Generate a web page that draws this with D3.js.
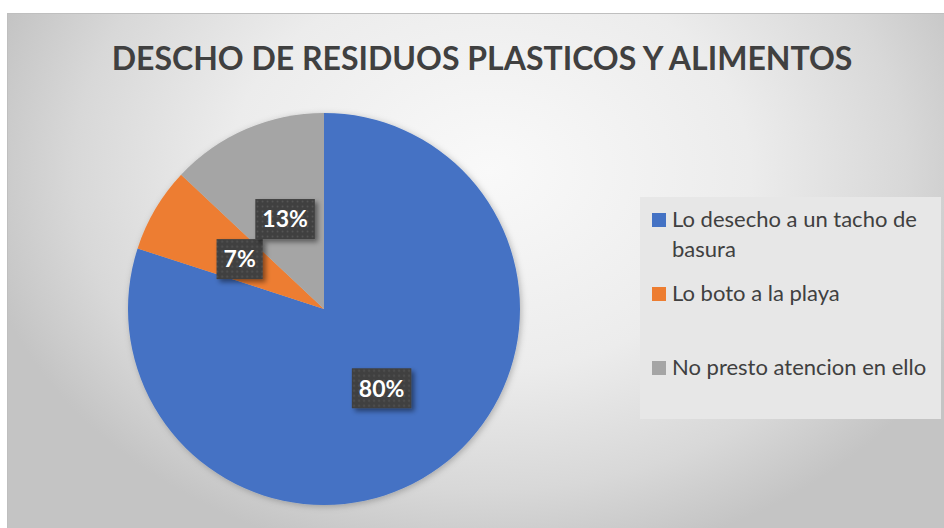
<!DOCTYPE html>
<html>
<head>
<meta charset="utf-8">
<script src="https://cdn.jsdelivr.net/npm/d3@7"></script>
<style>
  html, body { margin: 0; padding: 0; background: #fff; overflow: hidden; }
</style>
</head>
<body>
<div id="chart"></div>
<script>
{
  const width = 944;
  const height = 528;
  const title = "DESCHO DE RESIDUOS PLASTICOS Y ALIMENTOS";
  const categories = ["Lo desecho a un tacho de basura", "Lo boto a la playa", "No presto atencion en ello"];
  const values = [80, 7, 13];
  const colors = ["#4472C4", "#ED7D31", "#A5A5A5"];

  const font = "Lato, 'Open Sans', sans-serif";
  const textColor = "#404040";

  const center = { x: 324, y: 309 };
  const radius = 196;

  const svg = d3.select("#chart").append("svg")
    .attr("width", width)
    .attr("height", height)
    .style("display", "block");

  const defs = svg.append("defs");

  // background radial gradient (light near the top middle, darker at corners)
  const grad = defs.append("radialGradient")
    .attr("id", "bg")
    .attr("gradientUnits", "userSpaceOnUse")
    .attr("cx", 0).attr("cy", 0).attr("r", 1)
    .attr("gradientTransform", "translate(490,170) scale(520,400)");
  [[0, "#f9f9f9"], [0.5, "#ececec"], [0.8, "#d8d8d8"], [1, "#c4c4c4"]].forEach(s => {
    grad.append("stop").attr("offset", s[0]).attr("stop-color", s[1]);
  });

  const dots = defs.append("pattern")
    .attr("id", "dots")
    .attr("patternUnits", "userSpaceOnUse")
    .attr("width", 5)
    .attr("height", 5);
  dots.append("rect").attr("width", 5).attr("height", 5).attr("fill", "#404040");
  dots.append("circle").attr("cx", 2.5).attr("cy", 2.5).attr("r", 0.9).attr("fill", "#575757");

  const shadow = defs.append("filter")
    .attr("id", "shadow")
    .attr("x", "-30%").attr("y", "-30%").attr("width", "160%").attr("height", "160%");
  shadow.append("feDropShadow")
    .attr("dx", 3).attr("dy", 3).attr("stdDeviation", 2.5)
    .attr("flood-color", "#000").attr("flood-opacity", 0.45);

  const pieShadow = defs.append("filter")
    .attr("id", "pieShadow")
    .attr("x", "-10%").attr("y", "-10%").attr("width", "120%").attr("height", "120%");
  pieShadow.append("feDropShadow")
    .attr("dx", 1.5).attr("dy", 1.5).attr("stdDeviation", 3)
    .attr("flood-color", "#000").attr("flood-opacity", 0.25);

  // chart area
  svg.append("rect")
    .attr("x", 7.5).attr("y", 13.5)
    .attr("width", width + 20).attr("height", height + 20)
    .attr("fill", "url(#bg)")
    .attr("stroke", "#bfbfbf")
    .attr("stroke-width", 1);

  svg.append("text")
    .attr("x", 482)
    .attr("y", 70)
    .attr("text-anchor", "middle")
    .style("font-family", font)
    .style("font-weight", 700)
    .style("font-size", "32px")
    .attr("fill", textColor)
    .text(title);

  // pie
  const pie = d3.pie().sort(null).value(d => d.value);
  const arc = d3.arc().innerRadius(0).outerRadius(radius);
  const data = categories.map((c, i) => ({ name: c, value: values[i], color: colors[i] }));
  const arcs = pie(data);
  const total = d3.sum(values);

  const g = svg.append("g")
    .attr("transform", `translate(${center.x}, ${center.y})`);

  g.append("g")
    .attr("filter", "url(#pieShadow)")
    .selectAll("path")
    .data(arcs)
    .join("path")
    .attr("d", arc)
    .attr("fill", d => d.data.color);

  // data labels
  const fmt = d3.format(".0%");
  const labelG = g.selectAll(".label")
    .data(arcs)
    .join("g")
    .attr("class", "label")
    .attr("transform", d => `translate(${arc.centroid(d)})`);

  const labelBox = labelG.append("rect").attr("filter", "url(#shadow)").attr("fill", "url(#dots)");
  const labelText = labelG.append("text")
    .attr("text-anchor", "middle")
    .attr("dy", "0.36em")
    .style("font-family", font)
    .style("font-weight", 700)
    .style("font-size", "23px")
    .attr("fill", "#fff")
    .text(d => fmt(d.data.value / total));

  labelText.each(function(d) {
    const w = this.getComputedTextLength();
    d.boxW = w + 14;
  });
  labelBox
    .attr("x", d => -d.boxW / 2)
    .attr("y", -20)
    .attr("width", d => d.boxW)
    .attr("height", 40);

  // legend
  const legend = svg.append("g");
  legend.append("rect")
    .attr("x", 640).attr("y", 197)
    .attr("width", 301).attr("height", 222)
    .attr("fill", "#e7e7e7");

  const legendY = d3.scalePoint().domain(categories).range([227, 375]);

  const items = legend.selectAll(".item")
    .data(data)
    .join("g")
    .attr("class", "item")
    .attr("transform", d => `translate(652, ${legendY(d.name)})`);

  items.append("rect")
    .attr("x", 0).attr("y", -14)
    .attr("width", 14).attr("height", 14)
    .attr("fill", d => d.color);

  items.append("text")
    .attr("x", 20)
    .style("font-family", font)
    .style("font-size", "22px")
    .attr("fill", textColor)
    .each(function(d) {
      const t = d3.select(this);
      const words = d.name.split(" ");
      let line = [];
      let lineNo = 0;
      let tspan = t.append("tspan").attr("x", 20).attr("y", 0);
      words.forEach(w => {
        line.push(w);
        tspan.text(line.join(" "));
        if (tspan.node().getComputedTextLength() > 262 && line.length > 1) {
          line.pop();
          tspan.text(line.join(" "));
          line = [w];
          lineNo++;
          tspan = t.append("tspan").attr("x", 20).attr("y", lineNo * 30).text(w);
        }
      });
    });
}
</script>
</body>
</html>
